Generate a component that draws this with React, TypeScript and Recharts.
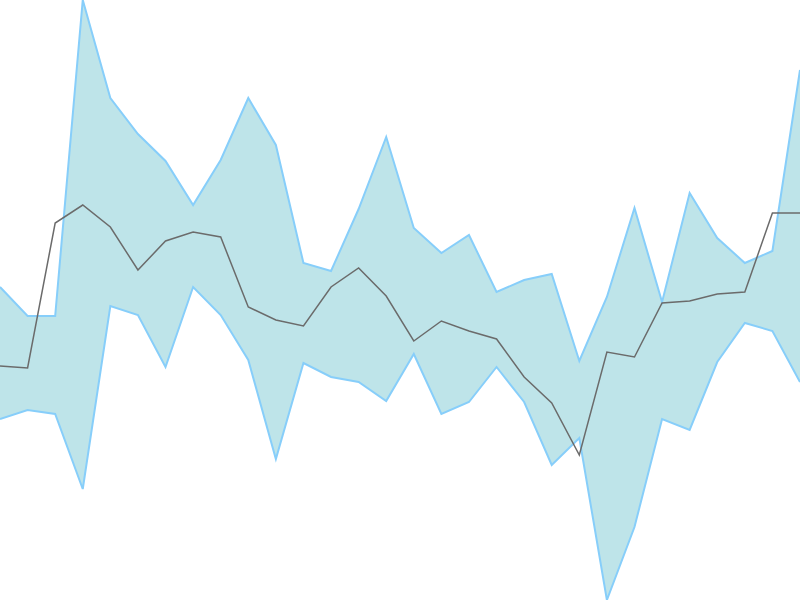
import { ComposedChart, Area, Line, XAxis, YAxis } from "recharts"

const labels = Array.from({ length: 30 }, (_, i) => `P${i + 1}`)

const upper = [
  313, 284, 284, 600, 502, 466, 439, 395, 440, 502,
  455, 337, 329, 391, 463, 372, 347, 365, 308, 320,
  326, 239, 303, 392, 298, 407, 362, 337, 349, 530,
]

const lower = [
  181, 190, 186, 111, 294, 285, 233, 313, 285, 240,
  141, 237, 223, 218, 199, 246, 186, 198, 233, 198,
  135, 162, 0, 73, 181, 170, 238, 277, 269, 218,
]

const mid = [
  234, 232, 377, 395, 373, 330, 359, 368, 363, 293,
  280, 274, 313, 332, 304, 259, 279, 269, 261, 223,
  197, 145, 248, 243, 297, 299, 306, 308, 387, 387,
]

const data = labels.map((label, i) => ({
  label,
  range: [lower[i], upper[i]],
  mid: mid[i],
}))

export default function App() {
  return (
    <div style={{ position: "absolute", left: 0, top: 0, width: 800, height: 600, background: "#fff" }}>
      <ComposedChart width={800} height={600} data={data} margin={{ top: 0, right: 0, bottom: 0, left: 0 }}>
        <XAxis dataKey="label" hide />
        <YAxis hide domain={[0, 600]} />
        <Area
          type="linear"
          dataKey="range"
          stroke="#87cefa"
          strokeWidth={2}
          fill="#bee4e9"
          fillOpacity={1}
          dot={false}
          activeDot={false}
          isAnimationActive={false}
        />
        <Line
          type="linear"
          dataKey="mid"
          stroke="#6b6b6b"
          strokeWidth={1.5}
          dot={false}
          activeDot={false}
          isAnimationActive={false}
        />
      </ComposedChart>
    </div>
  )
}
